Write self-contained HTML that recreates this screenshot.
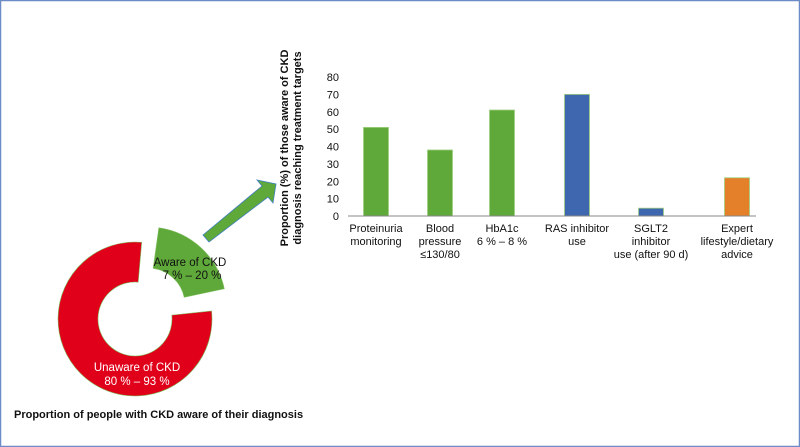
<!DOCTYPE html>
<html><head><meta charset="utf-8"><style>
html,body{margin:0;padding:0;background:#fff}
svg{display:block;font-family:"Liberation Sans",Arial,sans-serif}
</style></head><body>
<svg width="800" height="447" viewBox="0 0 800 447">
<rect x="0.5" y="0.5" width="799" height="446" fill="#fff" stroke="#6b8cc7" stroke-width="1.5"/>
<g id="donut"></g>
<polygon points="209,242 203,235 262,186 257,180 276,184 273,203 268,197" fill="#5fa83a" stroke="#3f7fbf" stroke-width="0.8"/>
<text x="190" y="266" text-anchor="middle" font-size="11.5" fill="#111">Aware of CKD</text>
<text x="192" y="279" text-anchor="middle" font-size="11.5" fill="#111">7 % – 20 %</text>
<text x="137" y="371" text-anchor="middle" font-size="11.5" fill="#fff">Unaware of CKD</text>
<text x="137" y="385" text-anchor="middle" font-size="11.5" fill="#fff">80 % – 93 %</text>
<text x="14" y="418" font-size="11" font-weight="bold" fill="#111">Proportion of people with CKD aware of their diagnosis</text>
<g transform="translate(292,148) rotate(-90)">
<text x="0" y="-4" text-anchor="middle" font-size="11" font-weight="bold" fill="#111">Proportion (%) of those aware of CKD</text>
<text x="0" y="9" text-anchor="middle" font-size="11" font-weight="bold" fill="#111">diagnosis reaching treatment targets</text>
</g>
<g id="chart"></g>
</svg>
<script>
const categories = [["Proteinuria","monitoring"],["Blood","pressure","≤130/80"],["HbA1c","6 % – 8 %"],["RAS inhibitor","use"],["SGLT2","inhibitor","use (after 90 d)"],["Expert","lifestyle/dietary","advice"]];
const values = [51, 38, 61, 70, 4.5, 22];
const barColors = ["#5fa83a","#5fa83a","#5fa83a","#3f67b0","#3f67b0","#e5802a"];
const yTicks = [0,10,20,30,40,50,60,70,80];
const NS="http://www.w3.org/2000/svg";
const chart=document.getElementById('chart');
const centers=[376,440,502,577,651,737];
const y=v=>216-v*(216-77)/80;
function mk(tag,attrs,parent){const e=document.createElementNS(NS,tag);for(const k in attrs)e.setAttribute(k,attrs[k]);parent.appendChild(e);return e;}
yTicks.forEach(t=>{
  const tx=mk('text',{x:339,y:y(t)+4,'text-anchor':'end','font-size':11,fill:'#111'},chart);
  
  
  tx.textContent=t;
});
values.forEach((v,i)=>{
  const r=mk('rect',{x:centers[i]-12.5,y:y(v),width:25,height:216-y(v),fill:barColors[i],stroke:'#9fd07f','stroke-width':0.8},chart);
  
  
  categories[i].forEach((line,j)=>{
    const tx=mk('text',{x:centers[i],y:232+j*13,'text-anchor':'middle','font-size':11,fill:'#111'},chart);
    
    
    tx.textContent=line;
  });
});
const ax=mk('line',{x1:348,y1:216,x2:756,y2:216,stroke:'#888','stroke-width':1},chart);



// donut
const donut=document.getElementById('donut');
function arc(cx,cy,R,r,a0,a1){
  const p=(rad,a)=>{const t=(a-90)*Math.PI/180;return [cx+rad*Math.cos(t),cy+rad*Math.sin(t)];};
  const large=(a1-a0)>180?1:0;
  const [x0,y0]=p(R,a0),[x1,y1]=p(R,a1),[x2,y2]=p(r,a1),[x3,y3]=p(r,a0);
  return `M${x0},${y0} A${R},${R} 0 ${large} 1 ${x1},${y1} L${x2},${y2} A${r},${r} 0 ${large} 0 ${x3},${y3} Z`;
}
const red=mk('path',{d:arc(135,319,77,37,84,365),fill:'#e0001a',stroke:'#7fbf5f','stroke-width':0.6},donut);


const green=mk('path',{d:arc(148,305,78,37,8,78),fill:'#5fa83a',stroke:'#7fbf5f','stroke-width':0.6},donut);


</script>
</body></html>
